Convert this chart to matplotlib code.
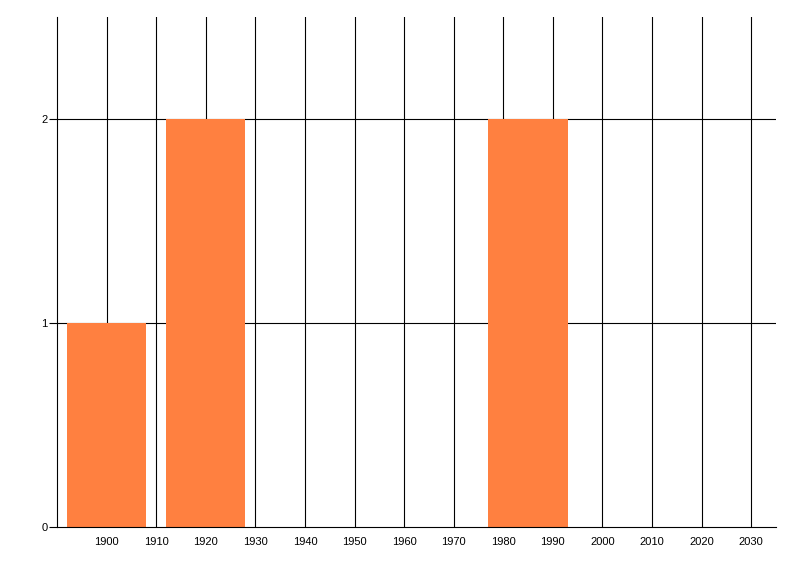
import numpy as np
import matplotlib.pyplot as plt

plt.rcParams['font.family'] = ['Liberation Sans', 'DejaVu Sans']

years = [1900, 1920, 1985]
counts = [1, 2, 2]
bar_width = 16
x_ticks = list(range(1900, 2031, 10))
y_ticks = [0, 1, 2]

fig = plt.figure(figsize=(8, 5.76), dpi=100)
ax = fig.add_axes([57 / 800, 1 - 527 / 576, (776 - 57) / 800, (527 - 17) / 576])

ax.bar(years, counts, width=bar_width, color='#FF8040', zorder=2)

ax.set_xlim(1890, 2035)
ax.set_ylim(0, 2.5)
ax.set_xticks(x_ticks)
ax.set_yticks(y_ticks)

# grid lines behind bars
for xv in x_ticks:
    ax.axvline(xv, color='black', lw=0.8, zorder=1)
for yv in y_ticks[1:]:
    ax.axhline(yv, color='black', lw=0.8, zorder=1)

for side in ['top', 'right']:
    ax.spines[side].set_visible(False)
for side in ['left', 'bottom']:
    ax.spines[side].set_linewidth(0.8)
    ax.spines[side].set_zorder(3)

ax.tick_params(axis='x', length=0, pad=7, labelsize=8)
ax.tick_params(axis='y', length=6, width=0.8, pad=1, labelsize=8)

fig.savefig('out.png', dpi=100)
